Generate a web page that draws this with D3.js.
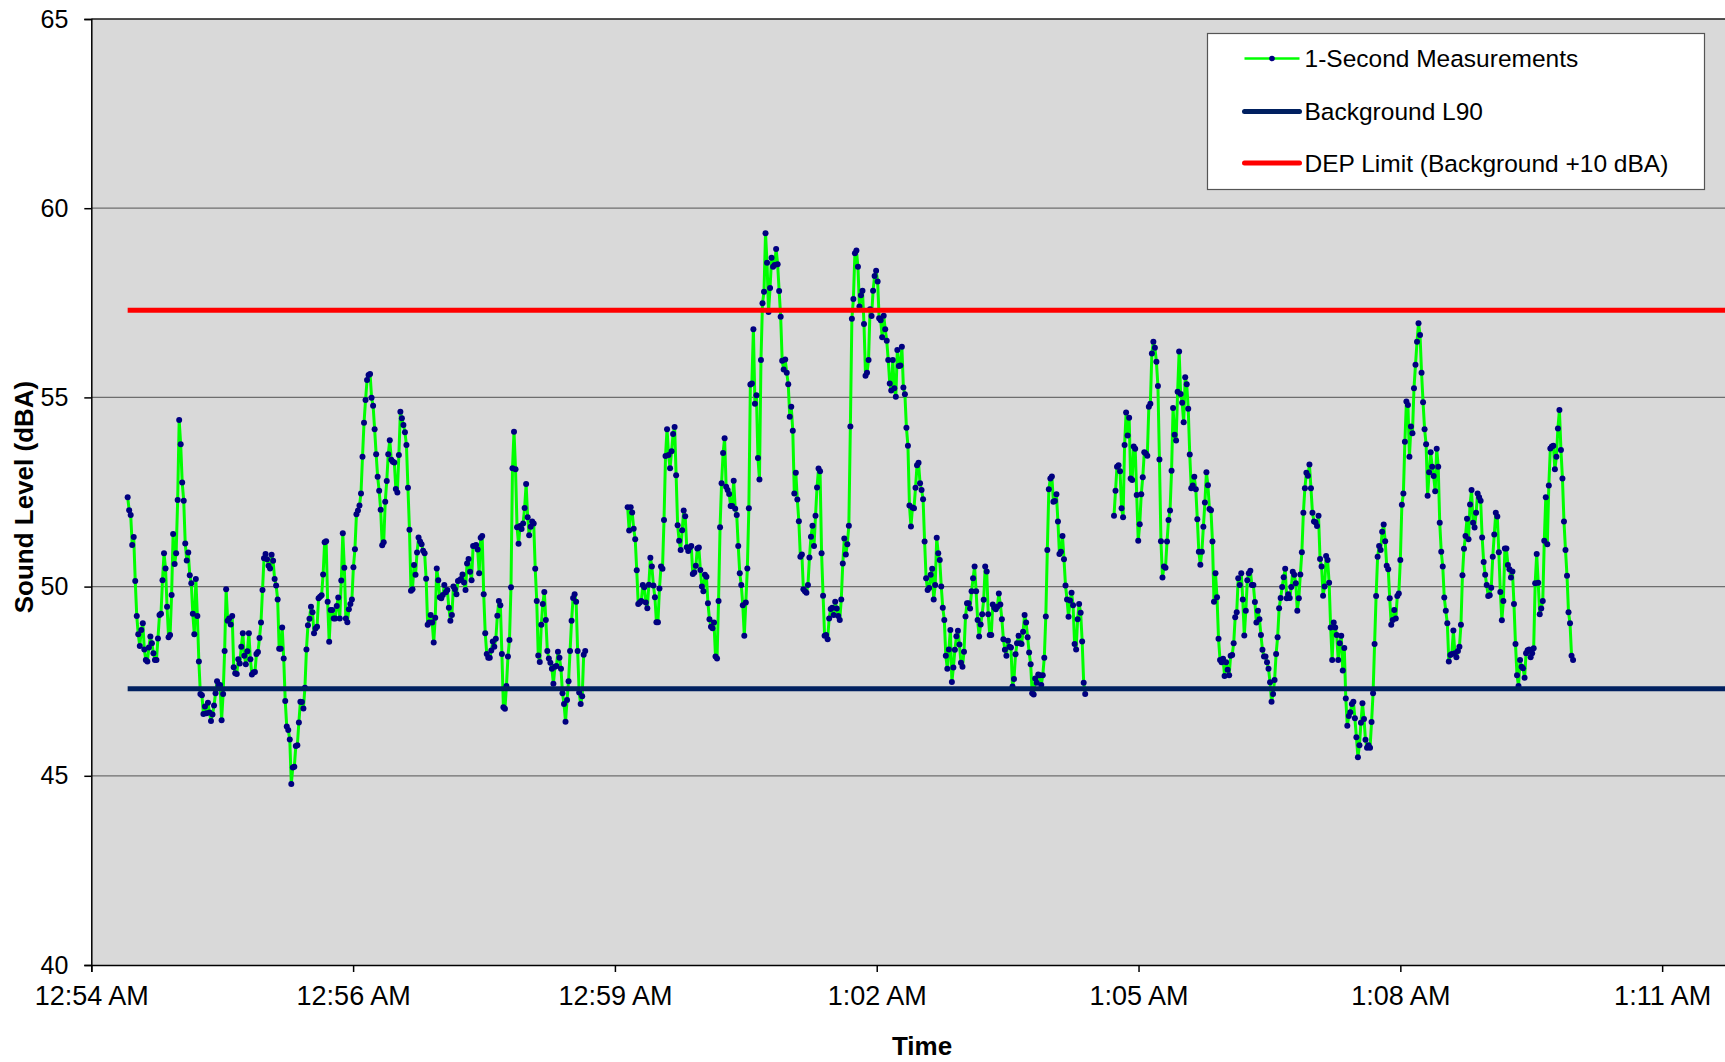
<!DOCTYPE html>
<html>
<head>
<meta charset="utf-8">
<script src="https://cdn.jsdelivr.net/npm/d3@7"></script>
<style>
  html, body { margin: 0; padding: 0; background: #ffffff; }
  svg { display: block; font-family: "Liberation Sans", Arial, sans-serif; }
</style>
</head>
<body>
<svg id="chart" width="1725" height="1062"></svg>
<script>
// Sound level, one reading per second, in three recorded runs
const run1Start = "00:54:24";
const run1Values = [
  52.36, 52.02, 51.89, 51.10, 51.31, 50.15, 49.22, 48.74, 48.43, 48.85,
  49.03, 48.34, 48.06, 48.02, 48.39, 48.68, 48.50, 48.24, 48.06, 48.06,
  48.63, 49.25, 49.28, 50.17, 50.88, 50.48, 49.47, 48.66, 48.72, 49.78,
  51.39, 50.60, 50.88, 52.29, 54.40, 53.76, 52.75, 52.27, 51.14, 50.69,
  50.90, 50.30, 50.09, 49.28, 48.74, 50.20, 49.22, 48.02, 47.16, 47.13,
  46.63, 46.83, 46.65, 46.93, 46.67, 46.45, 46.62, 46.86, 47.18, 47.50,
  47.40, 47.40, 46.47, 47.16, 48.30, 49.93, 49.10, 49.16, 49.00, 49.22,
  47.87, 47.71, 47.69, 48.08, 47.97, 48.41, 48.77, 48.17, 47.95, 48.29,
  48.77, 48.08, 47.68, 47.73, 47.74, 48.22, 48.27, 48.64, 49.05, 49.91,
  50.75, 50.86, 50.72, 50.55, 50.48, 50.84, 50.68, 50.20,
  50.03, 49.66, 48.36, 48.36, 48.92, 48.10, 46.98, 46.30, 46.21, 45.96,
  44.78, 45.22, 45.24, 45.79, 45.81, 46.41, 46.96, 46.95, 46.78, 47.33,
  48.34, 48.98, 49.15, 49.47, 49.32, 48.77, 48.89, 48.94, 49.69, 49.73,
  49.77, 50.32, 51.17, 51.20, 49.60, 48.54, 49.38, 49.38, 49.16, 49.16,
  49.49, 49.71, 49.16, 50.16, 51.41, 50.50, 49.16, 49.06, 49.40, 49.54,
  49.66, 50.51, 50.99, 51.91, 52.01, 52.14, 52.46, 53.43, 54.33, 54.93,
  55.46, 55.59, 55.62, 54.99, 54.78, 54.16, 53.50, 52.90, 52.53, 52.03,
  51.09, 51.17, 52.24, 52.79, 53.50, 53.87, 53.35, 53.30, 53.28, 52.58,
  52.49, 53.48, 54.62, 54.45, 54.27, 54.08, 53.74, 52.61, 51.50, 49.89,
  49.93, 50.57, 50.31, 50.90, 51.30, 51.19,
  51.12, 50.95, 50.88, 50.21, 48.99, 49.05, 49.25, 49.05, 48.52, 49.18,
  50.48, 50.17, 49.72, 49.69, 49.78, 50.04, 49.85, 49.91, 49.44, 49.10,
  49.25, 50.00, 49.93, 49.80, 50.15, 50.17, 50.20, 50.32, 50.11, 49.91,
  50.61, 50.73, 50.39, 50.17, 51.07, 51.08, 51.10, 50.98, 50.35, 51.29,
  51.34, 49.80, 48.77, 48.22, 48.12, 48.12, 48.31, 48.55, 48.41, 48.62,
  49.23, 49.62, 49.51, 48.22, 46.81, 46.77, 47.37, 48.15, 48.59, 49.98,
  53.13, 54.09, 53.10, 51.57, 51.13, 51.60, 51.52, 51.67, 52.08, 52.71,
  51.83, 51.36, 51.58, 51.72, 51.67, 50.47, 49.62, 48.18, 48.01, 48.99,
  49.54, 49.86, 49.12, 48.30, 48.10, 47.99, 47.83, 47.43, 47.88, 47.90,
  48.28, 48.12, 47.83, 47.18, 46.90, 46.43,
  47.00, 47.50, 48.30, 49.10, 49.70, 49.80, 49.60, 48.30, 47.20, 46.90,
  47.10, 48.20, 48.30
];

const run2Start = "00:59:54";
const run2Values = [
  52.10, 51.48, 52.10, 51.96, 51.53, 51.25, 50.43, 49.54, 49.58, 49.62,
  50.04, 49.98, 49.58, 49.43, 50.05, 50.76, 50.53, 50.03, 49.72, 49.06,
  49.06, 49.95, 50.53, 50.47, 51.76, 53.45, 54.16, 53.48, 53.13, 53.58,
  54.03, 54.22, 52.94, 51.62, 51.21, 50.97, 51.49, 52.01, 51.86, 51.04,
  50.94, 51.03, 51.07, 50.33, 50.37, 50.55, 51.01, 51.03, 50.44, 50.00,
  49.88, 50.31, 50.26, 49.56, 49.14, 48.94, 48.90, 49.05, 48.15, 48.10,
  49.62, 51.57, 52.73, 53.53, 53.92, 52.64, 52.55, 52.45, 52.13, 52.13,
  52.80, 52.06, 51.89, 51.07, 50.35, 50.04, 49.51, 48.70, 49.58, 50.48,
  52.07, 55.34, 55.37, 56.80, 54.83, 55.06, 53.40, 52.83,
  55.99, 57.49, 57.79, 59.34, 58.56, 57.26, 57.89, 58.69, 58.45, 58.50,
  58.92, 58.52, 57.81, 57.13, 55.97, 55.74, 56.00, 55.65, 55.35, 54.49,
  54.75, 54.12, 52.46, 53.01, 52.30, 51.73, 50.79, 50.85, 49.93, 49.88,
  49.84, 50.04, 50.77, 51.32, 51.61, 51.07, 51.87, 52.62, 53.12, 53.05,
  50.88, 49.76, 48.70, 48.72, 48.61, 49.16, 49.41, 49.44, 49.25, 49.60,
  49.42, 49.22, 49.12, 49.66, 50.61, 51.27, 50.85, 51.12, 51.61, 54.23,
  57.08, 57.60, 58.81, 58.88, 58.45, 57.40, 57.70, 57.82, 56.94, 55.57,
  55.65, 55.99, 57.33, 57.15, 57.82, 58.21, 58.35, 58.06, 57.09, 57.04,
  56.59, 57.16, 56.80, 56.50, 55.99, 55.37, 55.18, 55.99, 55.24, 55.02,
  56.25, 55.83, 55.84, 56.34,
  55.26, 55.08, 54.20, 53.72, 52.14, 51.59, 52.09, 52.07, 52.61, 53.21,
  53.27, 52.73, 52.55, 52.31, 51.19, 50.22, 49.91, 49.96, 50.31, 50.47,
  49.66, 50.04, 51.29, 50.88, 50.70, 50.00, 49.44, 49.12, 48.17, 47.83,
  48.34, 48.85, 47.48, 47.86, 48.33, 48.69, 48.83, 48.47, 47.99, 47.88,
  48.28, 49.21, 49.56, 49.56, 49.42, 49.88, 50.22, 50.53, 49.88, 49.12,
  48.68, 49.00, 49.27, 49.65, 50.53, 50.40, 49.27, 48.72, 48.72, 49.53,
  49.44, 49.40, 49.47, 49.82, 49.53, 49.14, 48.61, 48.33, 48.17, 48.57,
  48.41, 48.39, 47.36, 47.56, 48.21, 48.50, 48.70, 48.50, 48.48, 48.81,
  49.25, 49.05, 48.66, 48.26, 47.95, 47.18, 47.15, 47.57, 47.46, 47.68,
  47.66, 47.40, 47.66, 48.12, 49.21, 50.97, 52.57, 52.86,
  52.91, 52.24, 52.26, 52.44, 51.72, 50.86, 50.92, 51.34, 50.72, 50.03,
  49.66, 49.20, 49.63, 49.84, 49.51, 48.48, 48.34, 49.14, 49.54, 49.31,
  48.55, 47.46, 47.16
];

const run3Start = "01:05:15";
const run3Values = [
  51.87, 52.53, 53.17, 53.21, 53.05, 52.07, 51.83, 53.74, 54.60, 53.99,
  54.46, 52.86, 52.82, 53.70, 53.64, 52.42, 51.21, 51.65, 52.44, 52.89,
  53.55, 53.52, 53.46, 54.75, 54.83, 56.16, 56.47, 56.31, 55.94, 55.30,
  53.36, 51.20, 50.24, 50.53, 50.50, 51.19, 51.76, 52.01, 53.06, 54.72,
  54.01, 53.86, 55.15, 56.21, 55.09, 54.86, 54.34, 55.53, 55.35, 54.70,
  53.49, 52.60, 52.67, 52.90, 52.57, 51.78, 50.92, 50.58, 50.92, 51.58,
  52.22, 53.02, 52.68, 52.05, 52.02, 51.19, 49.60, 50.35, 49.72, 48.62,
  48.06, 48.00, 48.09, 47.64, 48.00, 47.80, 47.66, 48.17, 48.19, 48.50,
  49.19, 49.32, 50.22, 50.04, 50.35, 49.66, 48.71, 49.36, 50.17, 50.35,
  50.42, 50.04, 50.04, 49.59, 49.05, 49.36, 49.14, 48.72, 48.33, 48.15,
  48.15, 48.00, 47.83, 47.47, 46.96, 47.16, 47.53, 48.22, 48.66, 49.43,
  49.70, 49.99, 50.25, 50.47, 49.69, 49.80, 49.70, 49.99, 50.39, 50.31,
  50.09, 49.36, 49.69, 50.32, 50.91, 51.95, 52.60, 53.01, 52.93, 53.23,
  52.60, 51.95, 51.72, 51.70, 51.60, 51.87, 50.73, 50.53, 49.76, 50.00,
  50.81, 50.70, 50.10, 48.92, 48.06, 49.05, 48.92, 48.72, 48.06, 48.50,
  48.70, 47.78, 48.38, 47.04, 46.32, 46.58, 46.68, 46.90, 46.96, 46.52,
  46.02, 45.49, 45.81, 46.40, 46.92, 46.50, 45.95, 45.74, 45.81, 45.74,
  46.42, 47.18, 48.48, 49.75, 50.79, 51.07, 50.97, 51.45, 51.64, 51.20,
  50.55, 50.46, 49.69, 48.99, 49.12, 49.38, 49.16,
  49.75, 49.82, 50.70, 52.16, 52.46, 53.83, 54.89, 54.80, 53.43, 54.23,
  54.05, 55.24, 55.86, 56.47, 56.96, 56.65, 55.65, 54.87, 54.16, 53.76,
  52.40, 53.02, 53.55, 53.17, 52.92, 52.52, 53.64, 53.17, 51.69, 50.92,
  50.53, 49.71, 49.36, 49.03, 48.02, 48.19, 48.22, 48.84, 48.24, 48.13,
  48.30, 48.41, 48.99, 50.30, 51.00, 51.34, 51.79, 51.25, 52.17, 52.55,
  51.69, 51.56, 51.95, 52.46, 52.36, 52.27, 51.30, 50.65, 50.31, 50.04,
  49.75, 49.77, 49.97, 50.79, 51.38, 51.95, 51.85, 50.91, 49.86, 49.11,
  49.62, 51.01, 51.01, 50.57, 50.46, 50.24, 50.40, 49.54, 48.48, 47.66,
  47.37, 48.06, 47.88, 47.84, 47.59, 48.24, 48.32, 48.34, 48.13, 48.24,
  48.37, 50.09, 50.86, 50.10, 49.27, 49.42, 49.62, 51.21, 52.36, 51.12,
  52.67, 53.65, 53.70, 53.72, 53.10, 53.43, 54.18, 54.67, 53.61, 52.86,
  51.72, 50.97, 50.29, 49.32, 49.03, 48.17, 48.06
];

// Reference levels (dBA)
const backgroundL90 = 47.3;
const depLimit = 57.3;
const referenceSpan = ["00:54:24", "01:12:00"];

// Axes
const timeDomain = ["00:54:00", "01:12:00"];
const xMajorUnitSeconds = 172.8;          // 0.002 day
const xTickLabels = ["12:54 AM", "12:56 AM", "12:59 AM", "1:02 AM", "1:05 AM", "1:08 AM", "1:11 AM"];
const yTicks = [40, 45, 50, 55, 60, 65];
const yGridLines = [45, 50, 55, 60];

const legendLabels = ["1-Second Measurements", "Background L90", "DEP Limit (Background +10 dBA)"];

const parseTime = d3.timeParse("%H:%M:%S");

function toSeries(start, values) {
  const t0 = parseTime(start);
  return values.map((v, i) => ({ time: d3.timeSecond.offset(t0, i), value: v }));
}

const runs = [
  toSeries(run1Start, run1Values),
  toSeries(run2Start, run2Values),
  toSeries(run3Start, run3Values)
];

const svg = d3.select("#chart");
const W = 1725, H = 1062;
const plot = { left: 91.3, top: 19, bottom: 965, right: 1727.6 };

const x = d3.scaleTime()
  .domain(timeDomain.map(parseTime))
  .range([plot.left, plot.right]);
const y = d3.scaleLinear().domain([40, 65]).range([plot.bottom, plot.top]);

svg.append("rect").attr("width", W).attr("height", H).attr("fill", "#ffffff");

// plot background
svg.append("rect")
  .attr("x", plot.left).attr("y", plot.top)
  .attr("width", plot.right - plot.left).attr("height", plot.bottom - plot.top)
  .attr("fill", "#d9d9d9");

// horizontal gridlines
svg.append("g").selectAll("line").data(yGridLines).join("line")
  .attr("x1", plot.left).attr("x2", plot.right)
  .attr("y1", d => y(d)).attr("y2", d => y(d))
  .attr("stroke", "#6e6e6e").attr("stroke-width", 1.3);

// top border of plot
svg.append("line")
  .attr("x1", plot.left).attr("x2", plot.right)
  .attr("y1", plot.top).attr("y2", plot.top)
  .attr("stroke", "#1a1a1a").attr("stroke-width", 1.5);

svg.append("defs").append("clipPath").attr("id", "plotClip")
  .append("rect")
  .attr("x", plot.left).attr("y", plot.top)
  .attr("width", plot.right - plot.left).attr("height", plot.bottom - plot.top);

const dataLayer = svg.append("g").attr("clip-path", "url(#plotClip)");

const line = d3.line().x(d => x(d.time)).y(d => y(d.value));

// measurement traces
runs.forEach(run => {
  dataLayer.append("path")
    .datum(run)
    .attr("d", line)
    .attr("fill", "none")
    .attr("stroke", "#00ff00")
    .attr("stroke-width", 3)
    .attr("stroke-linejoin", "round");
});
runs.forEach(run => {
  dataLayer.append("g").selectAll("circle").data(run).join("circle")
    .attr("cx", d => x(d.time))
    .attr("cy", d => y(d.value))
    .attr("r", 3)
    .attr("fill", "#000080");
});

// reference levels
const refSpan = referenceSpan.map(parseTime);
dataLayer.append("line")
  .attr("x1", x(refSpan[0])).attr("x2", x(refSpan[1]))
  .attr("y1", y(backgroundL90)).attr("y2", y(backgroundL90))
  .attr("stroke", "#002060").attr("stroke-width", 5);
dataLayer.append("line")
  .attr("x1", x(refSpan[0])).attr("x2", x(refSpan[1]))
  .attr("y1", y(depLimit)).attr("y2", y(depLimit))
  .attr("stroke", "#ff0000").attr("stroke-width", 5);

// Y axis
const yAxis = d3.axisLeft(y).tickValues(yTicks).tickSize(7).tickPadding(16).tickFormat(d3.format("d"));
const gy = svg.append("g").attr("transform", `translate(${plot.left},0)`).call(yAxis);
gy.select(".domain").attr("stroke", "#000").attr("stroke-width", 1.5);
gy.selectAll(".tick line").attr("stroke", "#000").attr("stroke-width", 1.5);
gy.selectAll("text").attr("font-size", 25).attr("fill", "#000")
  .attr("font-family", "Liberation Sans, Arial, sans-serif");

// X axis
const t0 = parseTime(timeDomain[0]);
const xTickValues = xTickLabels.map((_, i) => new Date(t0.getTime() + i * xMajorUnitSeconds * 1000));
const xAxis = d3.axisBottom(x).tickValues(xTickValues).tickSize(7).tickPadding(14)
  .tickFormat((d, i) => xTickLabels[i]);
const gx = svg.append("g").attr("transform", `translate(0,${plot.bottom})`).call(xAxis);
gx.select(".domain").attr("stroke", "#000").attr("stroke-width", 1.5);
gx.selectAll(".tick line").attr("stroke", "#000").attr("stroke-width", 1.5);
gx.selectAll("text").attr("font-size", 27).attr("fill", "#000")
  .attr("font-family", "Liberation Sans, Arial, sans-serif");

// axis titles
svg.append("text")
  .attr("x", 922).attr("y", 1055)
  .attr("text-anchor", "middle")
  .attr("font-size", 26).attr("font-weight", "bold")
  .text("Time");
svg.append("text")
  .attr("transform", "translate(33,497) rotate(-90)")
  .attr("text-anchor", "middle")
  .attr("font-size", 26).attr("font-weight", "bold")
  .text("Sound Level (dBA)");

// legend
const legend = svg.append("g");
legend.append("rect")
  .attr("x", 1207.5).attr("y", 33.5).attr("width", 497).attr("height", 156)
  .attr("fill", "#ffffff").attr("stroke", "#555").attr("stroke-width", 1.2);
const rowY = [58.5, 111.5, 163];
const sampleX = [1244.5, 1299.5];
legend.append("line")
  .attr("x1", sampleX[0]).attr("x2", sampleX[1]).attr("y1", rowY[0]).attr("y2", rowY[0])
  .attr("stroke", "#00ff00").attr("stroke-width", 2.5);
legend.append("circle")
  .attr("cx", (sampleX[0] + sampleX[1]) / 2).attr("cy", rowY[0]).attr("r", 2.8)
  .attr("fill", "#000080");
legend.append("line")
  .attr("x1", sampleX[0]).attr("x2", sampleX[1]).attr("y1", rowY[1]).attr("y2", rowY[1])
  .attr("stroke", "#002060").attr("stroke-width", 5).attr("stroke-linecap", "round");
legend.append("line")
  .attr("x1", sampleX[0]).attr("x2", sampleX[1]).attr("y1", rowY[2]).attr("y2", rowY[2])
  .attr("stroke", "#ff0000").attr("stroke-width", 5).attr("stroke-linecap", "round");
legend.selectAll("text.lbl").data(legendLabels).join("text")
  .attr("class", "lbl")
  .attr("x", 1304.5).attr("y", (d, i) => rowY[i])
  .attr("dy", "0.35em")
  .attr("font-size", 24.5)
  .text(d => d);
</script>
</body>
</html>
